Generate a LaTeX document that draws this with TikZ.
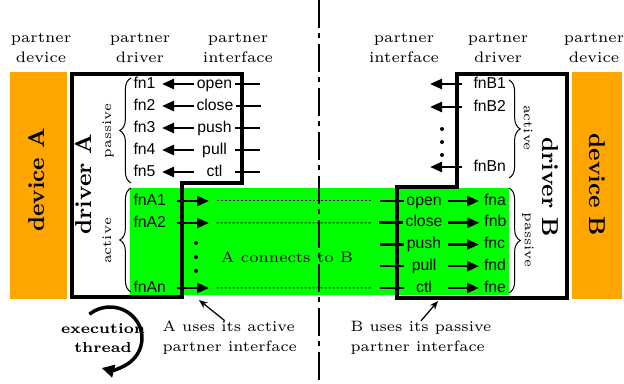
\documentclass[tikz,border=0pt]{standalone}
\usepackage{fontspec}
\newfontfamily\sffn{Liberation Sans}
\usepackage{tikz}
\usetikzlibrary{positioning}
\usetikzlibrary{arrows.meta}
\usetikzlibrary{decorations.pathreplacing}

\definecolor{devorange}{RGB}{255,165,0}
\definecolor{conngreen}{RGB}{0,255,0}

\tikzset{
  hdr/.style={align=center, inner sep=0pt, font=\fontsize{6.1}{8}\selectfont},
  big/.style={inner sep=0pt, font=\fontsize{9.2}{11}\selectfont\bfseries},
  lbl/.style={inner sep=0pt, font=\fontsize{5.2}{6}\selectfont},
  note/.style={align=left, inner sep=0pt, anchor=west, font=\fontsize{6}{8}\selectfont},
  fn/.style={font=\sffn\fontsize{6.3}{7}\selectfont, inner sep=0.8pt,
    text height=4.7pt, text depth=1.3pt},
  ifc/.style={fn, minimum width=16pt},
  drv/.style={line width=1.4pt},
  conn/.style={line width=1pt, -{Triangle[length=4.8pt,width=4pt]}},
  stub/.style={line width=1pt},
  dots/.style={line width=0.4pt, dash pattern=on 0.8pt off 0.8pt, shorten <=3pt, shorten >=3pt},
  brc/.style={line width=0.4pt, decorate, decoration={brace, amplitude=4.5pt}},
  ann/.style={line width=0.5pt, -{Stealth[length=3.5pt,width=2.8pt]}},
  threadarc/.style={line width=1.4pt, -{Triangle[length=5pt,width=5pt]}},
  divider/.style={line width=0.5pt, dash pattern=on 11.2pt off 2pt on 2pt off 2.4pt}
}

\begin{document}
\begin{tikzpicture}[x=0.4pt,y=-0.4pt]
    \useasboundingbox (0,0) rectangle (624,384);

    % backgrounds
    \fill[devorange] (10,72) rectangle (67,299);
    \fill[devorange] (572,72) rectangle (622,299);
    \fill[conngreen] (130,188) rectangle (509,295);
    \draw[divider] (319,0) -- (319,384);

    % column headers
    \node(hdevA) [hdr] at (41,48) {partner\\device};
    \node(hdrvA) [hdr] at (140,48) {partner\\driver};
    \node(hifcA) [hdr] at (238,48) {partner\\interface};
    \node(hifcB) [hdr] at (404,48) {partner\\interface};
    \node(hdrvB) [hdr] at (498,48) {partner\\driver};
    \node(hdevB) [hdr] at (594,48) {partner\\device};

    % driver outlines
    \draw[drv] (72,74) -- (242,74) -- (242,183) -- (182,183) -- (182,297) -- (72,297) -- cycle;
    \draw[drv] (457,74) -- (567,74) -- (567,298) -- (397,298) -- (397,187) -- (457,187) -- cycle;

    \node(devA) [big, rotate=90] at (37,180) {device A};
    \node(drvA) [big, rotate=90] at (84,184) {driver A};
    \node(drvB) [big, rotate=-90] at (550,187) {driver B};
    \node(devB) [big, rotate=-90] at (597,185) {device B};

    % driver A, passive side
    \node(f1) [fn, anchor=west, text width=10.4pt] at (131,84) {fn1};
    \node(f2) [fn, text width=10.4pt, on grid, below=8.8pt of f1] {fn2};
    \node(f3) [fn, text width=10.4pt, on grid, below=8.8pt of f2] {fn3};
    \node(f4) [fn, text width=10.4pt, on grid, below=8.8pt of f3] {fn4};
    \node(f5) [fn, text width=10.4pt, on grid, below=8.8pt of f4] {fn5};
    \node(o1) [ifc, right=12.8pt of f1] {open};
    \node(o2) [ifc, right=12.8pt of f2] {close};
    \node(o3) [ifc, right=12.8pt of f3] {push};
    \node(o4) [ifc, right=12.8pt of f4] {pull};
    \node(o5) [ifc, right=12.8pt of f5] {ctl};
    \foreach \i in {1,...,5} {
        \draw[conn] (o\i.west) -- (f\i.east);
        \draw[stub] (o\i.east) -- +(25,0);
    }
    \draw[brc] (131,183) -- (131,78);
    \node(pasA) [lbl, rotate=90] at (108,131) {passive};

    % driver A, active side
    \node(fA1) [fn, anchor=west, text width=16.4pt] at (131,201) {fnA1};
    \node(fA2) [fn, text width=16.4pt, on grid, below=8.8pt of fA1] {fnA2};
    \node(fAn) [fn, anchor=west, text width=16.4pt] at (131,288) {fnAn};
    \coordinate[right=12.8pt of fA1] (tA1);
    \coordinate[right=12.8pt of fA2] (tA2);
    \coordinate[right=12.8pt of fAn] (tAn);
    \draw[conn] (fA1.east) -- (tA1);
    \draw[conn] (fA2.east) -- (tA2);
    \draw[conn] (fAn.east) -- (tAn);
    \fill (196,243) circle (0.8pt) (196,257) circle (0.8pt) (196,271) circle (0.8pt);
    \draw[brc] (131,292) -- (131,188);
    \node(actA) [lbl, rotate=90] at (107,241) {active};

    % driver B, active side
    \node(fB1) [fn, anchor=west, text width=13.5pt] at (471,84) {fnB1};
    \node(fB2) [fn, text width=13.5pt, on grid, below=9.2pt of fB1] {fnB2};
    \node(fBn) [fn, anchor=west, text width=13.5pt] at (471,167) {fnBn};
    \coordinate[left=16.4pt of fB1] (tB1);
    \coordinate[left=16.4pt of fB2] (tB2);
    \coordinate[left=16.4pt of fBn] (tBn);
    \draw[conn, shorten <=3.6pt] (fB1.west) -- (tB1);
    \draw[conn, shorten <=3.6pt] (fB2.west) -- (tB2);
    \draw[conn, shorten <=3.6pt] (fBn.west) -- (tBn);
    \fill (442,129) circle (0.8pt) (442,142) circle (0.8pt) (442,155) circle (0.8pt);
    \draw[brc] (509,80) -- (509,178);
    \node(actB) [lbl, rotate=-90] at (528,128) {active};

    % driver B, passive side
    \node(bo1) [ifc] at (424,201) {open};
    \node(bo2) [ifc, on grid, below=8.7pt of bo1] {close};
    \node(bo3) [ifc, on grid, below=8.7pt of bo2] {push};
    \node(bo4) [ifc, on grid, below=8.7pt of bo3] {pull};
    \node(bo5) [ifc, on grid, below=8.7pt of bo4] {ctl};
    \node(bf1) [fn, text width=10pt, right=14.8pt of bo1] {fna};
    \node(bf2) [fn, text width=10pt, right=14.8pt of bo2] {fnb};
    \node(bf3) [fn, text width=10pt, right=14.8pt of bo3] {fnc};
    \node(bf4) [fn, text width=10pt, right=14.8pt of bo4] {fnd};
    \node(bf5) [fn, text width=10pt, right=14.8pt of bo5] {fne};
    \foreach \i in {1,...,5} {
        \coordinate[left=9.6pt of bo\i] (sB\i);
        \draw[stub] (sB\i) -- (bo\i.west);
        \draw[conn, shorten <=1.2pt, shorten >=1pt] (bo\i.east) -- (bf\i.west);
    }
    \draw[brc] (509,188) -- (509,293);
    \node(pasB) [lbl, rotate=-90] at (528,240) {passive};

    % links between the drivers
    \draw[dots] (tA1) -- (sB1);
    \draw[dots] (tA2) -- (sB2);
    \draw[dots] (tAn) -- (sB5);
    \node(link) [hdr] at (287,257) {A connects to B};

    % notes below
    \node(exec) [hdr, font=\fontsize{5.8}{7.6}\selectfont\bfseries] at (103,338) {execution\\thread};
    \coordinate(arcstart) at (89.4,314.3);
    \draw[threadarc] (arcstart) arc[start angle=-130, end angle=105, x radius=32, y radius=31];

    \node(uA) [note] at (162,338) {A uses its active\\partner interface};
    \node(uB) [note] at (350,338) {B uses its passive\\partner interface};
    \coordinate(pA) at (199,300);
    \coordinate(pB) at (438,301);
    \draw[ann] ([xshift=-2pt]uA.north) -- (pA);
    \draw[ann] (uB.north) -- (pB);
\end{tikzpicture}
\end{document}
